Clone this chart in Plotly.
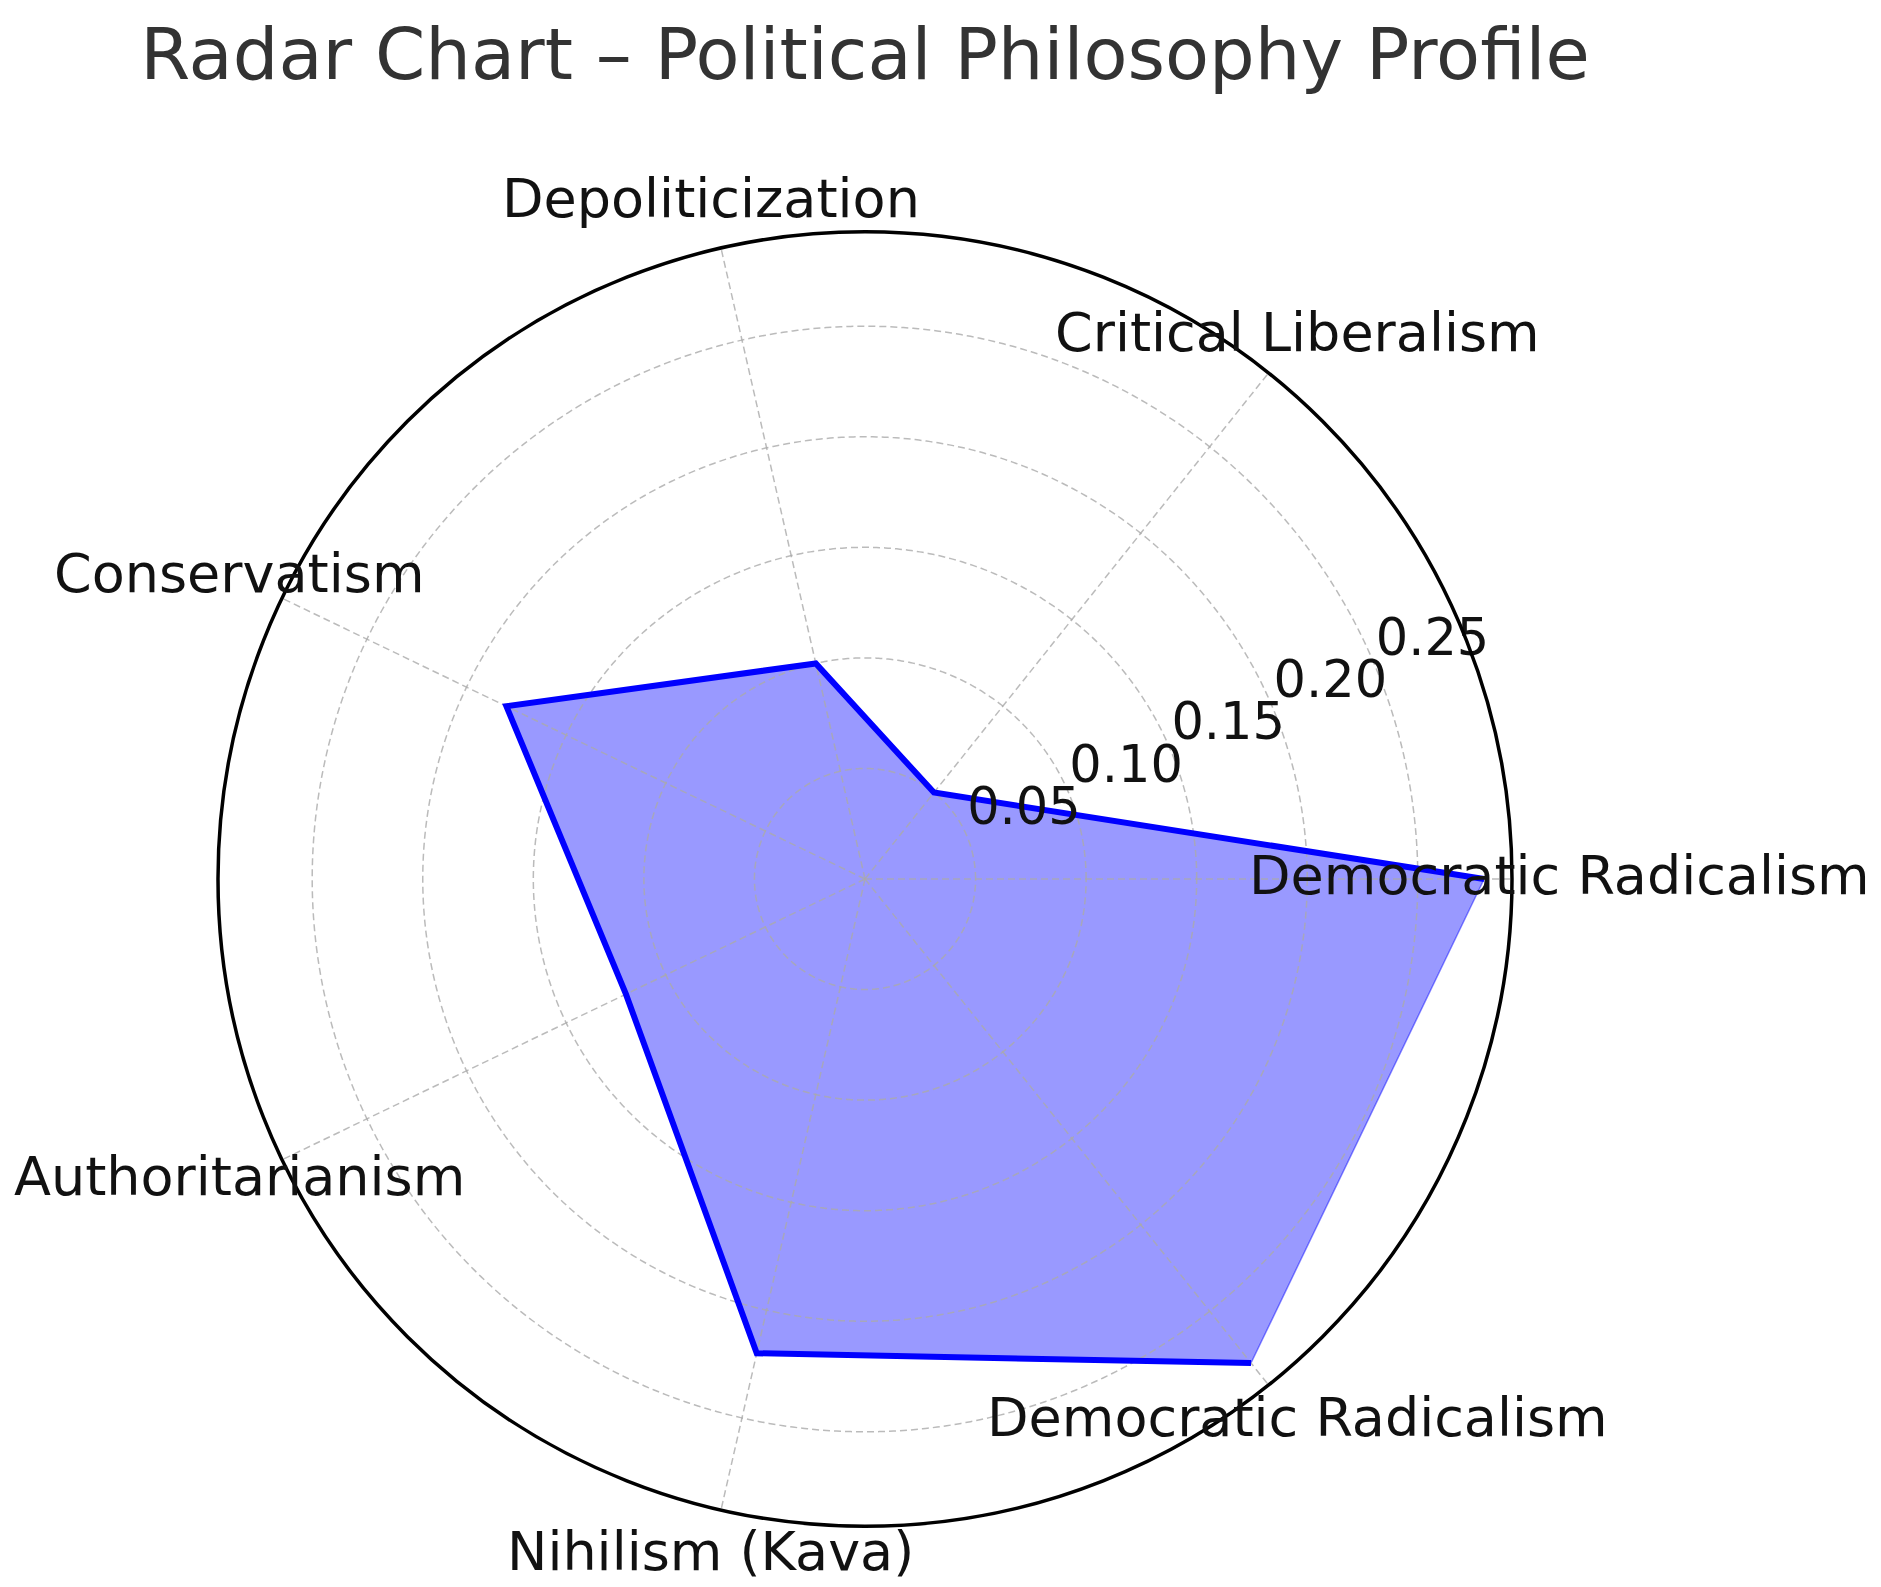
import numpy as np
import plotly.graph_objects as go

# ---------------- data ----------------
categories = [
    "Democratic Radicalism",
    "Critical Liberalism",
    "Depoliticization",
    "Conservatism",
    "Authoritarianism",
    "Nihilism (Kava)",
    "Democratic Radicalism",
]
values = [0.28, 0.05, 0.10, 0.18, 0.12, 0.22, 0.28]
radial_ticks = [0.05, 0.10, 0.15, 0.20, 0.25]
radial_tick_labels = ["0.05", "0.10", "0.15", "0.20", "0.25"]
r_max = 0.2926
title_text = "Radar Chart – Political Philosophy Profile"

# ---------------- geometry / style ----------------
PAGE_OFF = 8                        # default body margin of the html page
W, H = 1881 - 2 * PAGE_OFF, 1587 - 2 * PAGE_OFF
cx, cy, R = 865 - PAGE_OFF, 879 - PAGE_OFF, 647   # circle centre / radius (px)
dom_x = [(cx - R) / W, (cx + R) / W]
dom_y = [1 - (cy + R) / H, 1 - (cy - R) / H]
label_r = 694                       # pixel distance of category label centres
rlabel_angle = 22.5
FONT = "DejaVu Sans"
grid_color = "rgba(170,170,170,0.8)"
grid_dash = "7px,4px"

n = len(categories)
angles = [i * 360.0 / n for i in range(n)]

fig = go.Figure()

# filled area (closed polygon, thin translucent edge)
fig.add_trace(go.Scatterpolar(
    r=values + values[:1], theta=angles + angles[:1],
    mode="lines", fill="toself",
    fillcolor="rgba(0,0,255,0.4)",
    line=dict(color="rgba(0,0,255,0.45)", width=1.5),
    hoverinfo="skip", showlegend=False,
))

# grid rings (drawn above fill like matplotlib)
ring_theta = np.linspace(0, 360, 721)
for t in radial_ticks:
    fig.add_trace(go.Scatterpolar(
        r=[t] * len(ring_theta), theta=ring_theta,
        mode="lines", line=dict(color=grid_color, width=1.5, dash=grid_dash),
        hoverinfo="skip", showlegend=False,
    ))

# grid spokes
spoke_r, spoke_t = [], []
for a in angles:
    spoke_r += [0, r_max, None]
    spoke_t += [a, a, None]
fig.add_trace(go.Scatterpolar(
    r=spoke_r, theta=spoke_t, mode="lines", connectgaps=False,
    line=dict(color=grid_color, width=1.5, dash=grid_dash),
    hoverinfo="skip", showlegend=False,
))

# outline (not closed, like the original plot)
fig.add_trace(go.Scatterpolar(
    r=values, theta=angles, mode="lines",
    line=dict(color="#0000ff", width=6),
    hoverinfo="skip", showlegend=False,
))

# radial tick labels
fig.add_trace(go.Scatterpolar(
    r=radial_ticks, theta=[rlabel_angle] * len(radial_ticks),
    mode="text", text=radial_tick_labels, textposition="top right",
    textfont=dict(family=FONT, size=51, color="#111111"),
    hoverinfo="skip", showlegend=False, cliponaxis=False,
))

# category labels as annotations around the circle
annotations = []
for lab, a in zip(categories, angles):
    th = np.deg2rad(a)
    px = cx + label_r * np.cos(th)
    py = cy - label_r * np.sin(th)
    annotations.append(dict(
        text=lab, x=px / W, y=1 - py / H, xref="paper", yref="paper",
        xanchor="center", yanchor="middle", showarrow=False, yshift=4,
        font=dict(family=FONT, size=54, color="#111111"),
    ))

fig.update_layout(
    width=W, height=H,
    margin=dict(l=0, r=0, t=0, b=0),
    paper_bgcolor="white",
    font=dict(family=FONT),
    showlegend=False,
    hovermode=False,
    title=dict(
        text=title_text, x=cx / W, y=1 - (54 - PAGE_OFF) / H,
        xanchor="center", yanchor="middle",
        font=dict(family=FONT, size=72, color="#333333"),
    ),
    annotations=annotations,
    polar=dict(
        domain=dict(x=dom_x, y=dom_y),
        bgcolor="white",
        radialaxis=dict(
            range=[0, r_max], showgrid=False, showline=False,
            showticklabels=False, ticks="",
        ),
        angularaxis=dict(
            rotation=0, direction="counterclockwise",
            showgrid=False, showticklabels=False, ticks="",
            showline=True, linecolor="black", linewidth=3.5,
        ),
    ),
)

fig.write_html("out.html")
